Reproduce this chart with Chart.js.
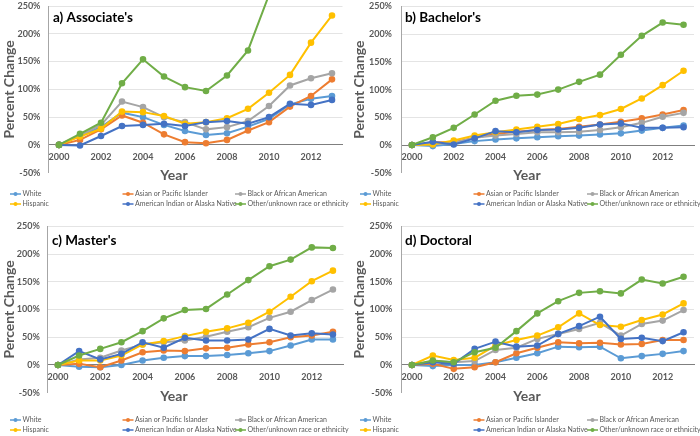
<!DOCTYPE html>
<html>
<head>
<meta charset="utf-8">
<script src="https://cdn.jsdelivr.net/npm/chart.js@4"></script>
<style>
  body { margin: 0; background: #fff; }
  #wrap { position: relative; width: 700px; height: 436px; }
  canvas { position: absolute; }
</style>
</head>
<body>
<div id="wrap">
  <canvas id="assoc" width="350" height="218" style="left:0;top:0"></canvas>
  <canvas id="bach" width="350" height="218" style="left:350px;top:0"></canvas>
  <canvas id="mast" width="350" height="218" style="left:0;top:218px"></canvas>
  <canvas id="doct" width="350" height="218" style="left:350px;top:218px"></canvas>
</div>
<script>
const years = ['2000', '2001', '2002', '2003', '2004', '2005', '2006', '2007', '2008', '2009', '2010', '2011', '2012', '2013'];
const groups = ['White', 'Asian or Pacific Islander', 'Black or African American', 'Hispanic',
  'American Indian or Alaska Native', 'Other/unknown race or ethnicity'];

// percent change since 2000
const assocWhite = [0, 17, 32, 58, 50, 36, 25, 18, 21, 33, 47, 73, 83, 88];
const assocAsian = [0, 9, 28, 53, 40, 19, 5, 3, 9, 26, 41, 69, 88, 118];
const assocBlack = [0, 17, 36, 78, 68, 50, 41, 28, 32, 43, 70, 107, 120, 129];
const assocHispanic = [0, 15, 29, 60, 59, 52, 38, 41, 48, 65, 94, 126, 184, 233];
const assocAmIndian = [0, -1, 16, 34, 36, 38, 34, 41, 43, 38, 50, 74, 72, 81];
const assocOther = [0, 20, 40, 111, 154, 123, 104, 97, 125, 170, 270, 330, 380, 420];

const bachWhite = [0, -2, 2, 7, 10, 12, 14, 16, 17, 19, 21, 26, 31, 35];
const bachAsian = [0, 5, 5, 13, 20, 24, 27, 29, 33, 37, 42, 48, 55, 63];
const bachBlack = [0, 2, 4, 13, 17, 20, 23, 23, 24, 27, 32, 40, 51, 58];
const bachHispanic = [0, 1, 8, 17, 23, 28, 33, 38, 47, 54, 65, 84, 108, 134];
const bachAmIndian = [0, 6, 1, 12, 25, 23, 27, 28, 31, 37, 39, 31, 31, 32];
const bachOther = [0, 14, 31, 55, 80, 89, 91, 100, 114, 127, 163, 197, 221, 217];

const mastWhite = [0, -3, -4, 0, 8, 13, 16, 16, 18, 21, 25, 35, 46, 46];
const mastAsian = [0, 2, -4, 8, 23, 26, 25, 30, 31, 37, 41, 50, 53, 60];
const mastBlack = [0, 10, 13, 26, 37, 41, 44, 51, 60, 68, 85, 96, 117, 136];
const mastHispanic = [0, 8, 8, 17, 37, 43, 52, 60, 66, 76, 96, 123, 151, 170];
const mastAmIndian = [0, 25, 10, 20, 41, 31, 49, 44, 44, 46, 65, 53, 57, 55];
const mastOther = [0, 17, 29, 41, 61, 84, 99, 101, 127, 153, 178, 190, 212, 211];

const doctWhite = [0, -2, 0, 0, 5, 13, 21, 33, 32, 33, 12, 16, 20, 25];
const doctAsian = [0, 2, -7, -4, 5, 21, 31, 41, 39, 40, 37, 38, 45, 45];
const doctBlack = [0, 7, 5, 7, 27, 31, 47, 56, 65, 76, 53, 74, 80, 99];
const doctHispanic = [0, 17, 9, 13, 35, 45, 53, 68, 93, 72, 69, 81, 91, 111];
const doctAmIndian = [0, 5, 2, 29, 42, 33, 35, 56, 70, 87, 47, 49, 43, 59];
const doctOther = [0, 8, 5, 23, 31, 61, 93, 115, 130, 133, 129, 154, 147, 159];

const yMin = -50;
const yMax = 250;
const yStep = 50;

const colors = ['#5B9BD5', '#ED7D31', '#A5A5A5', '#FFC000', '#4472C4', '#70AD47'];
const grey = '#595959';

// panel label, "Year" and the Excel style legend grid
const decor = {
  id: 'decor',
  afterDraw(chart, args, opts) {
    const ctx = chart.ctx;
    ctx.save();
    ctx.textBaseline = 'middle';
    ctx.textAlign = 'left';
    ctx.fillStyle = '#000';
    ctx.font = 'bold 13.5px Lato';
    ctx.fillText(opts.title, opts.titleX, opts.titleY);

    ctx.textAlign = 'center';
    ctx.fillStyle = grey;
    ctx.font = 'bold 14px Lato';
    ctx.fillText('Year', opts.yearX, opts.yearY);

    ctx.textAlign = 'left';
    ctx.font = '7px Lato';
    chart.data.datasets.forEach((ds, i) => {
      const x = opts.legendX + (i % 3) * opts.legendStep;
      const y = opts.legendY + Math.floor(i / 3) * 10;
      ctx.strokeStyle = ds.borderColor;
      ctx.lineWidth = 1.5;
      ctx.beginPath();
      ctx.moveTo(x, y);
      ctx.lineTo(x + 11, y);
      ctx.stroke();
      ctx.fillStyle = ds.borderColor;
      ctx.beginPath();
      ctx.arc(x + 5.5, y, 2, 0, Math.PI * 2);
      ctx.fill();
      ctx.fillStyle = grey;
      ctx.fillText(ds.label, x + 12.5, y);
    });
    ctx.restore();
  }
};

function makeChart(id, series, p) {
  const datasets = series.map((data, i) => ({
    label: groups[i],
    data: data,
    borderColor: colors[i],
    backgroundColor: colors[i],
    borderWidth: 2,
    pointRadius: 2.3,
    order: series.length - i,
    clip: 10
  }));

  return new Chart(document.getElementById(id), {
    type: 'line',
    data: { labels: years, datasets: datasets },
    plugins: [decor],
    options: {
      responsive: false,
      animation: false,
      devicePixelRatio: 1,
      layout: { padding: { left: 0, top: p.top, right: p.right, bottom: p.bottom } },
      plugins: {
        legend: { display: false },
        tooltip: { enabled: false },
        decor: p.decor
      },
      scales: {
        x: {
          type: 'category',
          offset: true,
          position: { y: 0 },
          afterFit: s => { s.height = 0; },
          grid: { display: false, drawTicks: false },
          border: { display: true, color: '#7F7F7F', width: 1 },
          ticks: {
            autoSkip: false,
            maxRotation: 0,
            padding: 7,
            color: grey,
            font: { family: 'Lato', size: 9, weight: 'bold' },
            callback: function (v, i) { return i % 2 === 0 ? this.getLabelForValue(v) : ''; }
          }
        },
        y: {
          min: yMin,
          max: yMax,
          afterFit: s => {
            s.width = p.axisLeft;
            s.paddingTop = 0;
            s.paddingBottom = 0;
          },
          grid: {
            drawTicks: false,
            color: c => (c.tick && c.tick.value === yMin ? 'rgba(0,0,0,0)' : '#E4E4E4')
          },
          border: { display: true, color: '#A6A6A6', width: 1 },
          ticks: {
            stepSize: yStep,
            autoSkip: false,
            padding: p.tickPad,
            color: grey,
            font: { family: 'Lato', size: 9, weight: 'bold' },
            callback: v => v + '%'
          },
          title: {
            display: true,
            text: 'Percent Change',
            color: grey,
            font: { family: 'Lato', size: 14, weight: 'bold' },
            padding: { top: 1.5, bottom: 0 }
          }
        }
      }
    }
  });
}

makeChart('assoc',
  [assocWhite, assocAsian, assocBlack, assocHispanic, assocAmIndian, assocOther],
  { top: 6, right: 7.5, bottom: 45.3, axisLeft: 48.5, tickPad: 8,
    decor: { title: "a) Associate's", titleX: 53, titleY: 18, yearX: 174, yearY: 175,
      legendX: 10, legendStep: 112.5, legendY: 194 } });

makeChart('bach',
  [bachWhite, bachAsian, bachBlack, bachHispanic, bachAmIndian, bachOther],
  { top: 6.5, right: 4.5, bottom: 45.3, axisLeft: 51.5, tickPad: 9.5,
    decor: { title: "b) Bachelor's", titleX: 55, titleY: 18, yearX: 177, yearY: 175,
      legendX: 10, legendStep: 113.5, legendY: 194 } });

makeChart('mast',
  [mastWhite, mastAsian, mastBlack, mastHispanic, mastAmIndian, mastOther],
  { top: 8.3, right: 6.5, bottom: 43.3, axisLeft: 47.4, tickPad: 7.5,
    decor: { title: "c) Master's", titleX: 52, titleY: 23, yearX: 174, yearY: 178,
      legendX: 10, legendStep: 112.5, legendY: 202 } });

makeChart('doct',
  [doctWhite, doctAsian, doctBlack, doctHispanic, doctAmIndian, doctOther],
  { top: 8.3, right: 4.5, bottom: 43.3, axisLeft: 51.5, tickPad: 9,
    decor: { title: 'd) Doctoral', titleX: 55, titleY: 23, yearX: 177, yearY: 178,
      legendX: 10, legendStep: 113.5, legendY: 202 } });
</script>
</body>
</html>
